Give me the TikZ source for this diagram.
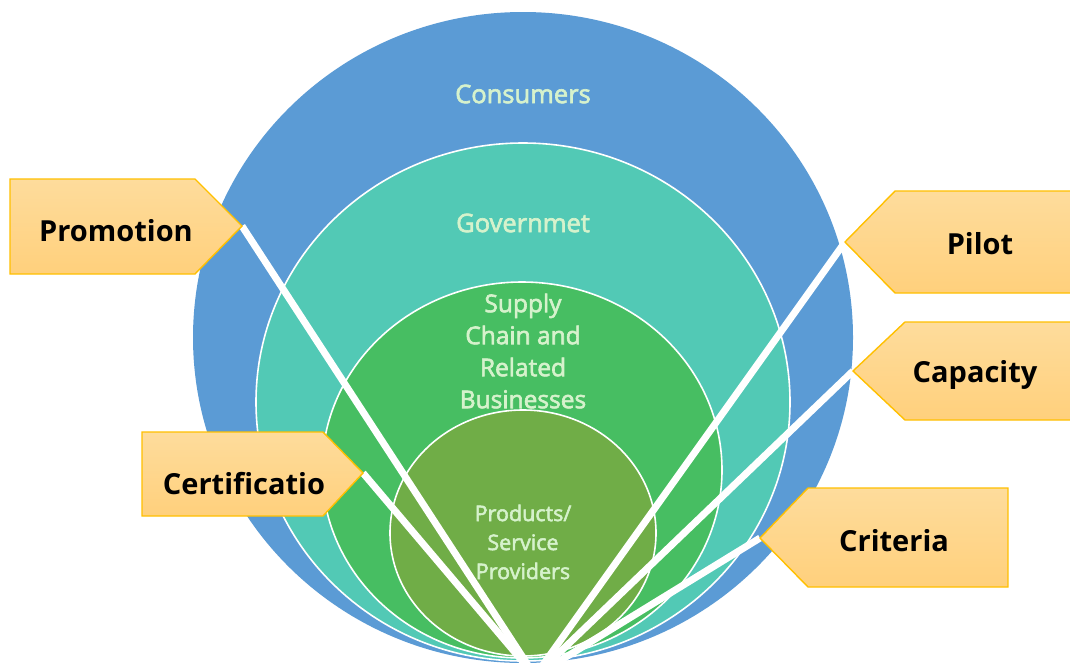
\documentclass[tikz,border=0pt]{standalone}
\usepackage{fontspec}
\setmainfont{Open Sans}
\newfontfamily\ringfont{Open Sans}[FakeBold=2.5]
\definecolor{cBlue}{HTML}{5B9BD5}
\definecolor{cTeal}{HTML}{52C9B5}
\definecolor{cGreen}{HTML}{47BE62}
\definecolor{cOlive}{HTML}{70AD47}
\definecolor{cLabel}{HTML}{D6F2CC}
\definecolor{cGold}{HTML}{FFC000}
\definecolor{cTop}{HTML}{FEDC9C}
\definecolor{cBot}{HTML}{FFD07C}
\tikzset{
  ring/.style={draw=white, line width=1.6pt},
  ringlabel/.style={text=cLabel, font=\ringfont\fontsize{25.5}{32}\selectfont, align=center},
  supplylabel/.style={text=cLabel, font=\ringfont\fontsize{24.5}{32}\selectfont, align=center},
  smalllabel/.style={text=cLabel, font=\ringfont\fontsize{21.5}{29}\selectfont, align=center},
  callout/.style={draw=cGold, line width=1.4pt, top color=cTop, bottom color=cBot},
  callouttext/.style={font=\bfseries\fontsize{29}{32}\selectfont, text=black},
  spoke/.style={draw=white, line width=7pt}
}
\begin{document}
\begin{tikzpicture}[x=1pt,y=-1pt]
\useasboundingbox (0,0) rectangle (1070,670);
\fill[white] (0,0) rectangle (1070,670);
% circles
\fill[cBlue] (523,337.5) ellipse [x radius=330, y radius=325.5];
\path[ring, fill=cTeal] (523,402) ellipse [x radius=267, y radius=259];
\path[ring, fill=cGreen] (522,470) ellipse [x radius=200, y radius=188];
\path[ring, fill=cOlive] (523,533) ellipse [x radius=133, y radius=123];
% ring labels
\node[ringlabel] (consumers) at (523,94) {Consumers};
\node[ringlabel] (gov) at (523,223) {Governmet};
\node[supplylabel] (supply) at (523,351) {Supply\\Chain and\\Related\\Businesses};
\node[smalllabel] (prod) at (523,542) {Products/\\Service\\Providers};
% connector coordinates
\coordinate (tPromo) at (242,226);
\coordinate (tCert) at (363,473);
\coordinate (tPilot) at (845,242);
\coordinate (tCap) at (853,371);
\coordinate (tCrit) at (760,538);
\coordinate (base) at (535,676);
% spokes
\draw[spoke] (tPromo) -- (base);
\draw[spoke] (tCert) -- (base);
\draw[spoke] (tPilot) -- (base);
\draw[spoke] (tCap) -- (base);
\draw[spoke] (tCrit) -- (base);
% callouts
\path[callout] (10,179) -- (195,179) -- (tPromo) -- (195,274) -- (10,274) -- cycle;
\path[callout] (142,432) -- (323,432) -- (tCert) -- (323,516) -- (142,516) -- cycle;
\path[callout] (1075,191) -- (895,191) -- (tPilot) -- (895,293) -- (1075,293) -- cycle;
\path[callout] (1075,322) -- (905,322) -- (tCap) -- (905,420) -- (1075,420) -- cycle;
\path[callout] (1008,488) -- (808,488) -- (tCrit) -- (808,587) -- (1008,587) -- cycle;
\node[callouttext] (promo) at (116,231) {Promotion};
\node[callouttext] (cert) at (244,484) {Certificatio};
\node[callouttext] (pilot) at (980,244) {Pilot};
\node[callouttext] (cap) at (975,375) {Capacity};
\node[callouttext] (crit) at (894,541) {Criteria};
\end{tikzpicture}
\end{document}
